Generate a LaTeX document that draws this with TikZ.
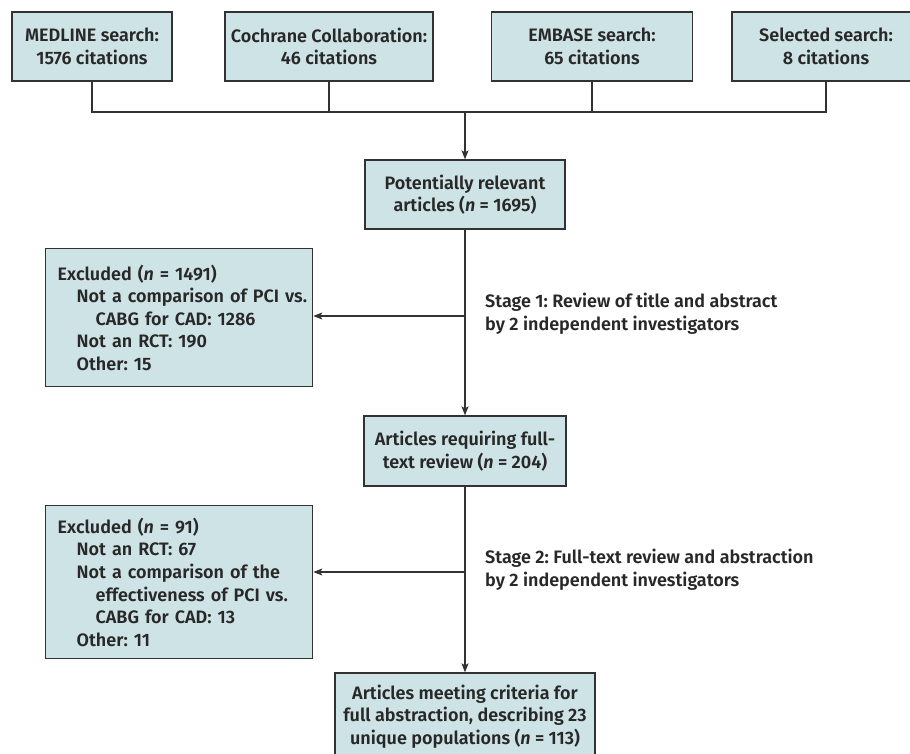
\documentclass[tikz,border=0pt]{standalone}
\usepackage{fontspec}
\setmainfont{Fira Sans}[BoldFont={Fira Sans SemiBold}, BoldItalicFont={Fira Sans SemiBold Italic}]
\usetikzlibrary{arrows.meta}
\definecolor{boxfill}{RGB}{206,227,230}
\definecolor{ink}{RGB}{40,40,40}
\definecolor{wire}{RGB}{50,50,50}
\frenchspacing
\begin{document}
\begin{tikzpicture}[x=1pt,y=-1pt,
  txt/.style={text=ink, font=\fontsize{18}{22.6}\selectfont\bfseries},
  box/.style={txt, draw=wire, line width=1.3pt, fill=boxfill, inner sep=0pt, align=center},
  lbox/.style={box, align=left, inner xsep=12pt, text width=243pt, anchor=north west},
  conn/.style={draw=wire, line width=1.2pt},
  arrow/.style={conn, -{Stealth[length=9pt,width=7pt,inset=2pt]}}]
\useasboundingbox (0,0) rectangle (910,754);
\clip (0,0) rectangle (910,754);
% top sources
\node[box, minimum width=160, minimum height=69] (med) at (92,46.5) {MEDLINE search:\\1576 citations};
\node[box, minimum width=208, minimum height=69] (coch) at (329,46.5) {Cochrane Collaboration:\\46 citations};
\node[box, minimum width=201, minimum height=69] (emb) at (592,46.5) {EMBASE search:\\65 citations};
\node[box, minimum width=188, minimum height=69] (sel) at (826,46.5) {Selected search:\\8 citations};
% main column
\node[box, minimum width=200, minimum height=69] (pot) at (465,194.5) {Potentially relevant\\articles (\textit{n} = 1695)};
\node[box, minimum width=202, minimum height=70] (req) at (465,451) {Articles requiring full-\\text review (\textit{n} = 204)};
\node[box, minimum width=260, minimum height=87] (fin) at (465,716.5) {Articles meeting criteria for\\full abstraction, describing 23\\unique populations (\textit{n} = 113)};
% excluded boxes
\node[lbox, minimum height=138] (ex1) at (45,248) {Excluded (\textit{n} = 1491)\\
\hspace*{19pt}\mbox{Not a comparison of PCI vs.}\\
\hspace*{38pt}CABG for CAD: 1286\\
\hspace*{19pt}Not an RCT: 190\\
\hspace*{19pt}Other: 15};
\node[lbox, minimum height=153] (ex2) at (45,505) {Excluded (\textit{n} = 91)\\
\hspace*{19pt}Not an RCT: 67\\
\hspace*{19pt}\mbox{Not a comparison of the}\\
\hspace*{38pt}\mbox{effectiveness of PCI vs.}\\
\hspace*{38pt}CABG for CAD: 13\\
\hspace*{19pt}Other: 11};
% stage labels
\node[txt, align=left, anchor=west, inner sep=0pt] (st1) at (485,314) {Stage 1: Review of title and abstract\\by 2 independent investigators};
\node[txt, align=left, anchor=west, inner sep=0pt] (st2) at (485,570) {Stage 2: Full-text review and abstraction\\by 2 independent investigators};
% connectors
\coordinate (bus) at (465,112);
\draw[conn] (med.south) -- (med.south |- bus) -- (sel.south |- bus) -- (sel.south);
\draw[conn] (coch.south) -- (coch.south |- bus);
\draw[conn] (emb.south) -- (emb.south |- bus);
\draw[arrow] (bus) -- (pot.north);
\draw[arrow] (pot.south) -- (req.north);
\draw[arrow] (req.south) -- (fin.north);
\coordinate (j1) at (465,316);
\coordinate (j2) at (465,572);
\draw[arrow] (j1) -- (ex1.east |- j1);
\draw[arrow] (j2) -- (ex2.east |- j2);
\end{tikzpicture}
\end{document}
